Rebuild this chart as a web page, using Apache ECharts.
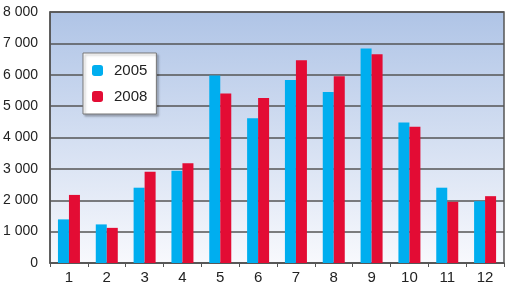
<!DOCTYPE html>
<html>
<head>
<meta charset="utf-8">
<script src="https://cdn.jsdelivr.net/npm/echarts@6/dist/echarts.min.js"></script>
<style>
  html, body { margin: 0; padding: 0; background: #fff; }
  #chart { width: 510px; height: 291px; }
</style>
</head>
<body>
<div id="chart"></div>
<script>
const months = ['1', '2', '3', '4', '5', '6', '7', '8', '9', '10', '11', '12'];
const values2005 = [1390, 1230, 2400, 2940, 5980, 4610, 5830, 5450, 6840, 4480, 2400, 1970];
const values2008 = [2170, 1120, 2910, 3180, 5400, 5260, 6460, 5950, 6650, 4340, 1950, 2130];

const chart = echarts.init(document.getElementById('chart'));

const fmt = (v) => {
  const s = String(v);
  return s.length > 3 ? s.slice(0, -3) + ' ' + s.slice(-3) : s;
};

chart.setOption({
  animation: false,
  textStyle: { fontFamily: 'Liberation Sans Narrow, Arial Narrow, sans-serif' },
  grid: {
    left: 50,
    right: 6,
    top: 12,
    bottom: 28,
    show: true,
    borderColor: '#555',
    borderWidth: 1.5,
    backgroundColor: {
      type: 'linear', x: 0, y: 0, x2: 0, y2: 1,
      colorStops: [
        { offset: 0, color: '#afc4e6' },
        { offset: 1, color: '#f8f9fd' }
      ]
    }
  },
  legend: {
    left: 83,
    top: 53,
    orient: 'vertical',
    itemWidth: 11,
    itemHeight: 11,
    itemGap: 11,
    padding: [10, 9, 10, 9],
    backgroundColor: '#fff',
    borderColor: '#777',
    borderWidth: 1,
    shadowColor: 'rgba(0,0,0,0.25)',
    shadowOffsetX: 2,
    shadowOffsetY: 2,
    shadowBlur: 2,
    textStyle: { fontSize: 15, color: '#222', padding: [0, 0, 0, 6] },
    data: ['2005', '2008']
  },
  xAxis: {
    type: 'category',
    data: months,
    axisLine: { lineStyle: { color: '#555', width: 1.5 } },
    axisTick: { show: true, length: 4, lineStyle: { color: '#555' } },
    axisLabel: { fontSize: 15, color: '#222', margin: 7 }
  },
  yAxis: {
    type: 'value',
    min: 0,
    max: 8000,
    interval: 1000,
    axisLine: { show: true, lineStyle: { color: '#555', width: 1.5 } },
    axisTick: { show: false },
    axisLabel: { fontSize: 14, color: '#222', margin: 12, formatter: fmt },
    splitLine: { lineStyle: { color: '#555', width: 1.5 } }
  },
  series: [
    {
      name: '2005',
      type: 'bar',
      data: values2005,
      barWidth: 11,
      barGap: '0%',
      itemStyle: { color: '#00aeef' }
    },
    {
      name: '2008',
      type: 'bar',
      data: values2008,
      barWidth: 11,
      itemStyle: { color: '#e30c34' }
    }
  ]
});
</script>
</body>
</html>
